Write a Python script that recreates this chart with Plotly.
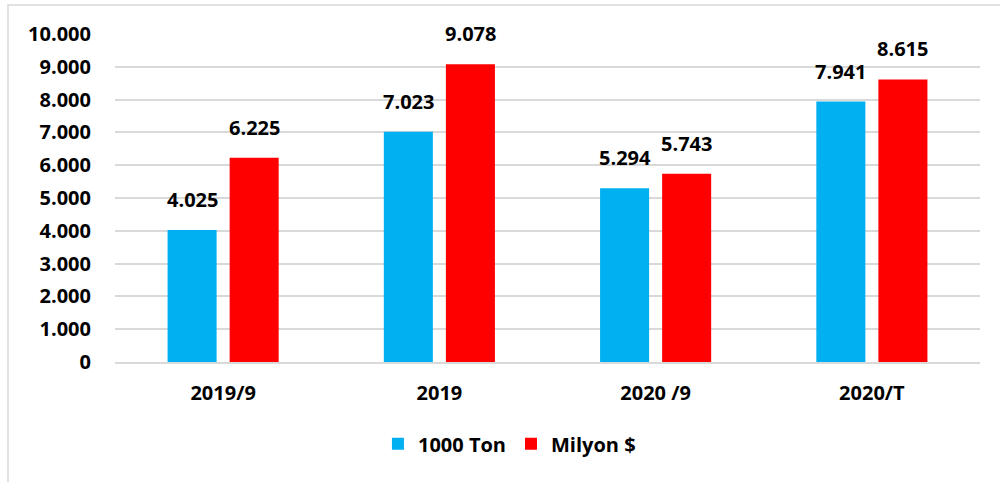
import plotly.graph_objects as go

categories = ["2019/9", "2019", "2020 /9", "2020/T"]
ton_values = [4025, 7023, 5294, 7941]
usd_values = [6225, 9078, 5743, 8615]
series_names = ["1000 Ton", "Milyon $"]
series_colors = ["#00B0F0", "#FF0000"]
tick_values = [0, 1000, 2000, 3000, 4000, 5000, 6000, 7000, 8000, 9000, 10000]

FONT = "Open Sans"
FS = 20

fig = go.Figure()
for name, vals, col in zip(series_names, [ton_values, usd_values], series_colors):
    fig.add_trace(go.Bar(
        x=categories, y=vals, name=name,
        marker=dict(color=col, line=dict(width=0)),
    ))

# value labels above bars (x given as category index on the category axis)
def fmt(v):
    return f"{v:,}".replace(",", ".")

for vals, shift in [(ton_values, -31), (usd_values, 31)]:
    for i, v in enumerate(vals):
        fig.add_annotation(
            x=i, y=v, xref="x", yref="y", text=f"<b>{fmt(v)}</b>",
            showarrow=False, yanchor="bottom", xanchor="center",
            xshift=shift, yshift=15,
            font=dict(family=FONT, size=FS, color="black"),
        )

W, H = 1000, 482
ml, mr, mt, mb = 115, 20, 34, 120
pw, ph = W - ml - mr, H - mt - mb

fig.update_layout(
    width=W, height=H,
    margin=dict(l=ml, r=mr, t=mt, b=mb),
    paper_bgcolor="white", plot_bgcolor="white",
    separators=",.",
    barmode="group", bargap=0.426, bargroupgap=0.21,
    font=dict(family=FONT, size=FS, color="black"),
    showlegend=True,
    legend=dict(orientation="h", x=0.456, xanchor="center", y=-0.19, yanchor="top",
                font=dict(family=FONT, size=FS, color="black", weight="bold"),
                itemwidth=30, traceorder="normal"),
)
fig.update_xaxes(
    type="category", categoryorder="array", categoryarray=categories,
    range=[-0.5, len(categories) - 0.5],
    showline=True, linecolor="#d9d9d9", linewidth=1.5,
    ticks="", tickfont=dict(family=FONT, size=FS, color="black", weight="bold"),
    showgrid=False, ticklabelstandoff=12,
)
fig.update_yaxes(
    range=[0, 10000], tickvals=tick_values, tickformat=",d",
    showgrid=True, gridcolor="#d9d9d9", gridwidth=1.5,
    zeroline=False, showline=False, ticks="",
    tickfont=dict(family=FONT, size=FS, color="black", weight="bold"),
    ticklabelstandoff=23,
)

# outer chart frame
x0 = (8 - ml) / pw
x1 = (1003 - ml) / pw
y1 = 1 + (mt - 5) / ph
y0 = -(mb + 10) / ph
fig.add_shape(type="rect", xref="paper", yref="paper", x0=x0, x1=x1, y0=y0, y1=y1,
              line=dict(color="#d9d9d9", width=1.5), layer="below")

fig.write_html("out.html", config={"displayModeBar": False},
               post_script="document.body.style.margin='0px';")
